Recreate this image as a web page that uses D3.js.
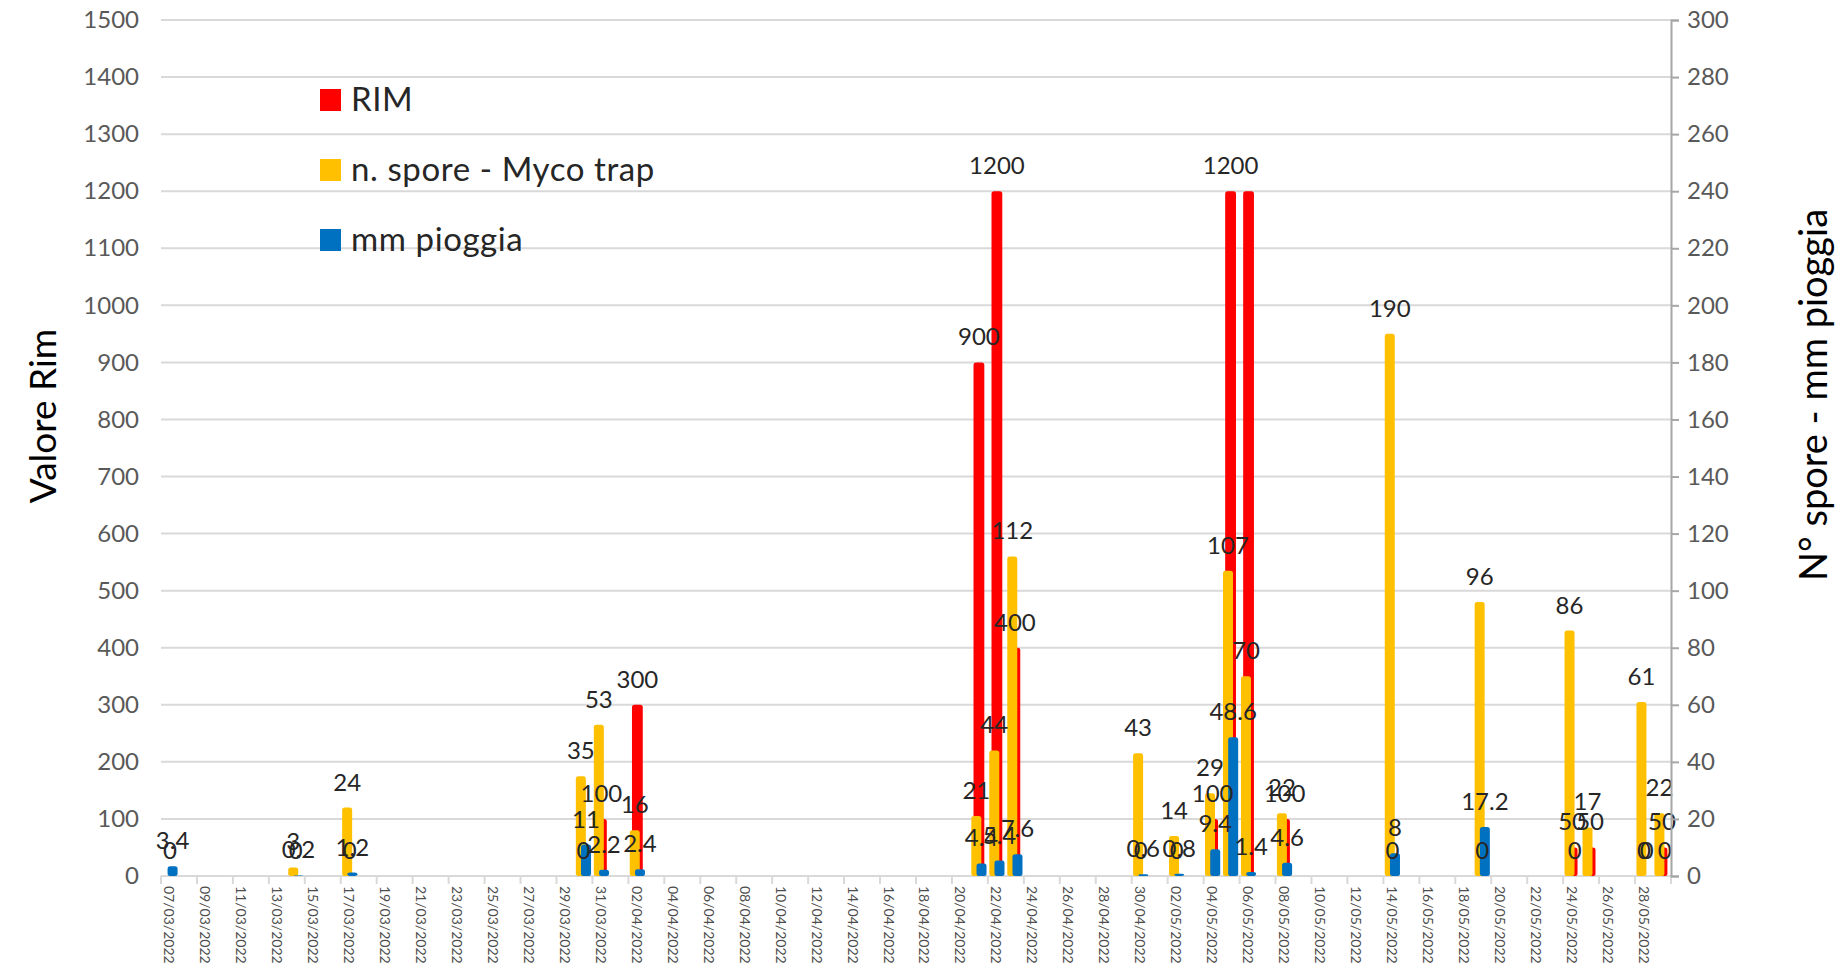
<!DOCTYPE html>
<html>
<head>
<meta charset="utf-8">
<script src="https://cdn.jsdelivr.net/npm/d3@7"></script>
<style>
  body { margin: 0; background: #fff; }
  svg { font-family: Lato, "Open Sans", sans-serif; }
</style>
</head>
<body>
<svg width="1836" height="966"></svg>
<script>
// sampled dates and values (everything else on the axis is empty)
var sampleDates = ["07/03/2022", "14/03/2022", "17/03/2022", "30/03/2022", "31/03/2022", "02/04/2022",
  "21/04/2022", "22/04/2022", "23/04/2022", "30/04/2022", "02/05/2022", "04/05/2022", "05/05/2022",
  "06/05/2022", "08/05/2022", "14/05/2022", "19/05/2022", "24/05/2022", "25/05/2022", "28/05/2022", "29/05/2022"];
var rim   = [0, 0, 0, 0, 100, 300, 900, 1200, 400, 0, 0, 100, 1200, 1200, 100, 0, 0, 50, 50, 0, 50];
var spore = [null, 3, 24, 35, 53, 16, 21, 44, 112, 43, 14, 29, 107, 70, 22, 190, 96, 86, 17, 61, 22];
var rain  = [3.4, 0.2, 1.2, 11, 2.2, 2.4, 4.4, 5.4, 7.6, 0.6, 0.8, 9.4, 48.6, 1.4, 4.6, 8, 17.2, 0, null, 0, 0];
var rimHiddenLabels = ["06/05/2022"];

var leftTicks = d3.range(0, 1501, 100);
var rightTicks = d3.range(0, 301, 20);
var legendNames = ["RIM", "n. spore - Myco trap", "mm pioggia"];
var colors = ["#ff0000", "#ffc000", "#0070c0"];

var fmt = d3.timeFormat("%d/%m/%Y");
var categories = d3.timeDay.range(new Date(2022, 2, 7), new Date(2022, 4, 30)).map(fmt);

var svg = d3.select("svg"),
    plotLeft = 161, plotRight = 1671, plotTop = 20, plotBottom = 876;

var x = d3.scaleBand().domain(categories).range([plotLeft, plotRight]);
var yL = d3.scaleLinear().domain([0, 1500]).range([plotBottom, plotTop]);
var yR = d3.scaleLinear().domain([0, 300]).range([plotBottom, plotTop]);
var bw = x.bandwidth();

// gridlines
svg.append("g").selectAll("line")
  .data(leftTicks.slice(1))
  .enter().append("line")
    .attr("x1", plotLeft).attr("x2", plotRight)
    .attr("y1", function(d) { return yL(d); })
    .attr("y2", function(d) { return yL(d); })
    .attr("stroke", "#d9d9d9").attr("stroke-width", 2);

// left axis labels
var gl = svg.append("g")
    .attr("transform", "translate(" + plotLeft + ",0)")
    .call(d3.axisLeft(yL).tickValues(leftTicks).tickFormat(d3.format("d")).tickSize(0).tickPadding(22));
gl.select(".domain").remove();
gl.selectAll("text").attr("font-size", 24).attr("fill", "#595959").attr("font-family", "Lato");

// bottom axis
svg.append("line")
    .attr("x1", plotLeft).attr("x2", plotRight)
    .attr("y1", plotBottom).attr("y2", plotBottom)
    .attr("stroke", "#d9d9d9").attr("stroke-width", 2);

var tickIdx = d3.range(0, categories.length + 1, 2);
svg.append("g").selectAll("line")
  .data(tickIdx)
  .enter().append("line")
    .attr("x1", function(i) { return i < categories.length ? x(categories[i]) : plotRight; })
    .attr("x2", function(i) { return i < categories.length ? x(categories[i]) : plotRight; })
    .attr("y1", plotBottom).attr("y2", plotBottom + 8)
    .attr("stroke", "#d9d9d9").attr("stroke-width", 2);

svg.append("g").selectAll("text")
  .data(categories.filter(function(d, i) { return i % 2 === 0; }))
  .enter().append("text")
    .attr("transform", function(d) { return "translate(" + (x(d) + bw / 2) + "," + (plotBottom + 10) + ") rotate(90)"; })
    .attr("dominant-baseline", "central")
    .attr("font-size", 14)
    .attr("fill", "#4d4d4d")
    .text(function(d) { return d; });

// bars
var rows = sampleDates.map(function(d, i) {
  return {date: d, rim: rim[i], spore: spore[i], rain: rain[i]};
});

function cx(d) { return x(d.date) + bw / 2; }

function bars(key, scale, dx, w, color) {
  svg.append("g").selectAll("rect")
    .data(rows.filter(function(d) { return d[key] > 0; }))
    .enter().append("rect")
      .attr("x", function(d) { return cx(d) + dx - w / 2; })
      .attr("y", function(d) { return scale(d[key]); })
      .attr("width", w)
      .attr("height", function(d) { return plotBottom - scale(d[key]); })
      .attr("rx", 2.5)
      .attr("fill", color);
}

bars("rim", yL, 0, 10.8, colors[0]);
bars("spore", yR, -2.6, 10, colors[1]);
bars("rain", yR, 2.6, 10, colors[2]);

// data labels
function labels(key, scale, dx) {
  svg.append("g").selectAll("text")
    .data(rows.filter(function(d) {
      return d[key] !== null && !(key === "rim" && rimHiddenLabels.indexOf(d.date) >= 0);
    }))
    .enter().append("text")
      .attr("x", function(d) { return cx(d) + dx; })
      .attr("y", function(d) { return scale(d[key]) - 17; })
      .attr("text-anchor", "middle")
      .attr("font-size", 24)
      .attr("fill", "#262626")
      .text(function(d) { return d[key]; });
}

labels("rim", yL, 0);
labels("spore", yR, -2.6);
labels("rain", yR, 2.6);

// right axis
var gr = svg.append("g")
    .attr("transform", "translate(" + plotRight + ",0)")
    .call(d3.axisRight(yR).tickValues(rightTicks).tickSize(8).tickPadding(8));
gr.select(".domain").attr("stroke", "#a6a6a6").attr("stroke-width", 2);
gr.selectAll(".tick line").attr("stroke", "#a6a6a6").attr("stroke-width", 2);
gr.selectAll("text").attr("font-size", 24).attr("fill", "#595959").attr("font-family", "Lato");

// axis titles
svg.append("text")
    .attr("transform", "translate(56,416) rotate(-90)")
    .attr("text-anchor", "middle")
    .attr("font-size", 37)
    .attr("fill", "#000")
    .text("Valore Rim");

svg.append("text")
    .attr("transform", "translate(1827,395) rotate(-90)")
    .attr("text-anchor", "middle")
    .attr("font-size", 38)
    .attr("fill", "#000")
    .text("N° spore - mm pioggia");

// legend
var lg = svg.append("g").selectAll("g")
  .data(legendNames)
  .enter().append("g")
    .attr("transform", function(d, i) { return "translate(320," + (89 + i * 70) + ")"; });

lg.append("rect")
    .attr("width", 21).attr("height", 22)
    .attr("fill", function(d, i) { return colors[i]; });

lg.append("text")
    .attr("x", 31).attr("y", 22)
    .attr("font-size", 33)
    .attr("letter-spacing", 0.6)
    .attr("fill", "#262626")
    .text(function(d) { return d; });
</script>
</body>
</html>
